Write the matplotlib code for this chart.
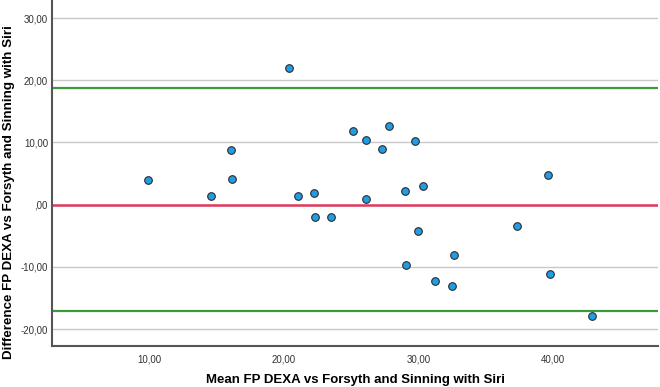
import matplotlib
matplotlib.use("Agg")
import matplotlib.pyplot as plt
from matplotlib.ticker import FuncFormatter

# Bland-Altman data
mean_fp = [9.85, 14.6, 16.05, 16.1, 20.4, 21.06, 22.2, 22.3, 23.5, 25.1,
           26.1, 26.07, 27.3, 27.8, 29.7, 29.0, 30.3, 29.95, 29.1, 31.2,
           32.5, 32.6, 37.3, 39.6, 39.8, 42.9]
diff_fp = [4.0, 1.4, 8.77, 4.06, 21.9, 1.44, 1.87, -1.98, -1.98, 11.9,
           10.4, 0.96, 8.88, 12.6, 10.2, 2.2, 3.05, -4.17, -9.7, -12.3,
           -13.05, -8.0, -3.37, 4.8, -11.1, -17.9]
mean_diff = 0.0
upper_loa = 18.73
lower_loa = -17.13
x_ticks = [10, 20, 30, 40]
y_ticks = [-20, -10, 0, 10, 20, 30]


def spss_fmt(v, _pos):
    s = f"{v:.2f}".replace(".", ",")
    if s.startswith("0,"):
        s = s[1:]
    elif s.startswith("-0,"):
        s = "-" + s[2:]
    return s


plt.rcParams["font.family"] = ["Liberation Sans", "DejaVu Sans"]

fig = plt.figure(figsize=(6.6, 3.87), dpi=100)
ax = fig.add_axes([0.079, 0.106, 0.918, 0.894])

for y in y_ticks:
    ax.axhline(y, color="#c8c8c8", lw=1.0, zorder=1)
ax.axhline(upper_loa, color="#3c9a3c", lw=1.6, zorder=2)
ax.axhline(lower_loa, color="#3c9a3c", lw=1.6, zorder=2)
ax.axhline(mean_diff, color="#e03a5c", lw=1.8, zorder=2)

ax.scatter(mean_fp, diff_fp, s=30, facecolor="#1f9de6", edgecolor="#2b2b2b",
           linewidth=0.8, zorder=3)

ax.set_xlim(2.76, 47.8)
ax.set_ylim(-22.7, 32.9)
ax.set_xticks(x_ticks)
ax.set_yticks(y_ticks)
ax.xaxis.set_major_formatter(FuncFormatter(spss_fmt))
ax.yaxis.set_major_formatter(FuncFormatter(spss_fmt))
ax.tick_params(length=0, labelsize=7, colors="#333333")
ax.tick_params(axis="y", pad=3)
ax.tick_params(axis="x", pad=6)

for side in ("top", "right"):
    ax.spines[side].set_visible(False)
for side in ("left", "bottom"):
    ax.spines[side].set_color("#555555")
    ax.spines[side].set_linewidth(1.5)

fig.text(356 / 660, 1 - 380 / 387, "Mean FP DEXA vs Forsyth and Sinning with Siri",
         fontsize=9.5, fontweight="bold", ha="center", va="center")
fig.text(9 / 660, 1 - 192 / 387, "Difference FP DEXA vs Forsyth and Sinning with Siri",
         fontsize=9.6, fontweight="bold", ha="center", va="center", rotation=90)

fig.savefig("out.png", dpi=100)
